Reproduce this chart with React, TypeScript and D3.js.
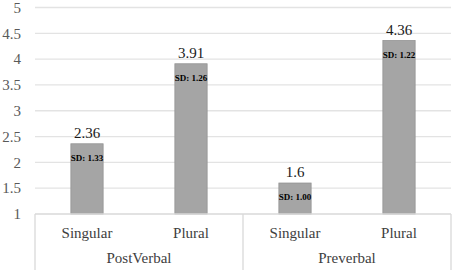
import * as d3 from "d3";

const groups = ["PostVerbal", "Preverbal"];
const categories = ["Singular", "Plural", "Singular", "Plural"];
const means = [2.36, 3.91, 1.6, 4.36];
const sdLabels = ["1.33", "1.26", "1.00", "1.22"];
const yTicks = [1, 1.5, 2, 2.5, 3, 3.5, 4, 4.5, 5];

const W = 454;
const H = 272;
const left = 35;
const right = 451;
const top = 7.5;
const bottom = 214;
const serif = { fontFamily: "Liberation Serif" };

export default function App() {
  const y = d3.scaleLinear().domain([1, 5]).range([bottom, top]);
  const x = d3
    .scaleBand<number>()
    .domain(d3.range(categories.length))
    .range([left, right])
    .paddingInner(0.69)
    .paddingOuter(0.345);
  const groupX = d3.scaleBand<number>().domain(d3.range(groups.length)).range([left, right]);

  return (
    <svg width={W} height={H} style={{ position: "absolute", left: 0, top: 0, background: "#fff" }}>
      {yTicks.map((t) => (
        <g key={t}>
          {t > 1 && (
            <line x1={left} x2={right} y1={y(t)} y2={y(t)} stroke="#e3e3e3" strokeWidth={1.3} />
          )}
          <text x={21} y={y(t)} dy="0.35em" textAnchor="end" fontSize={15} fill="#595959" style={serif}>
            {t}
          </text>
        </g>
      ))}

      {means.map((m, i) => {
        const bx = x(i)!;
        const bw = x.bandwidth();
        const cx = bx + bw / 2;
        return (
          <g key={i}>
            <rect
              x={bx}
              y={y(m)}
              width={bw}
              height={bottom - y(m)}
              fill="#a5a5a5"
              stroke="#939393"
              strokeWidth={0.8}
            />
            <text x={cx} y={y(m) - 6} textAnchor="middle" fontSize={15} fill="#1a1a1a" style={serif}>
              {String(m)}
            </text>
            <text
              x={cx}
              y={y(m) + 17}
              textAnchor="middle"
              fontSize={9}
              fill="#000"
              fontWeight={600}
              style={serif}
            >
              {`SD: ${sdLabels[i]}`}
            </text>
            <text x={cx} y={238} textAnchor="middle" fontSize={15} fill="#404040" style={serif}>
              {categories[i]}
            </text>
          </g>
        );
      })}

      <line x1={left} x2={right} y1={bottom} y2={bottom} stroke="#d9d9d9" strokeWidth={1.3} />
      {[left, groupX(1)!, right].map((gx, i) => (
        <line key={i} x1={gx} x2={gx} y1={bottom} y2={270} stroke="#d9d9d9" strokeWidth={1.3} />
      ))}
      {groups.map((g, i) => (
        <text
          key={g}
          x={groupX(i)! + groupX.bandwidth() / 2}
          y={263}
          textAnchor="middle"
          fontSize={15}
          fill="#404040"
          style={serif}
        >
          {g}
        </text>
      ))}
    </svg>
  );
}
